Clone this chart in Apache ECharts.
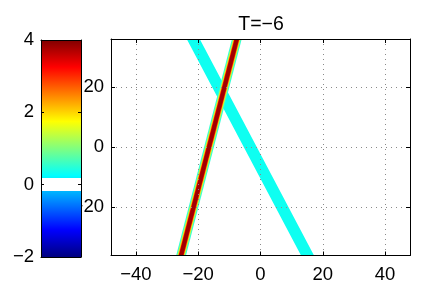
<!DOCTYPE html>
<html>
<head>
<meta charset="utf-8">
<script src="https://cdn.jsdelivr.net/npm/echarts@6/dist/echarts.min.js"></script>
<style>html,body{margin:0;padding:0;background:#fff;}#c{width:442px;height:288px;}</style>
</head>
<body>
<div id="c"></div>
<script>
// ---- data ----
const titleText = 'T=\u22126';
const xRange = [-48, 48];
const yRange = [-36, 36];
const xTicks = [-40, -20, 0, 20, 40];
const yTicks = [-20, 0, 20];
const cbRange = [-2, 4];
const cbTicks = [-2, 0, 2, 4];
// wide cyan band: centre line end points (x, y)
const wideBandX = [-21.6, 15.1];
const wideBandY = [36, -36];
const wideBandValue = 0.33;
// narrow peaked band: centre line end points (x, y)
const thinBandX = [-25.5, -7.6];
const thinBandY = [-36, 36];
// white gap in the colour map around zero
const whiteGap = [-0.17, 0.19];

const FONT = 'Liberation Sans';
const chart = echarts.init(document.getElementById('c'), null, {renderer: 'canvas'});

// jet colour map anchors (value -> colour)
const jet = [[4, [128,0,0]], [3.25, [255,0,0]], [1.75, [255,255,0]], [0.25, [0,255,255]], [-1.25, [0,0,255]], [-2, [0,0,128]]];
function jetColor(v) {
  for (let i = 0; i < jet.length - 1; i++) {
    const a = jet[i], b = jet[i+1];
    if (v <= a[0] && v >= b[0]) {
      const f = (v - b[0]) / (a[0] - b[0]);
      const c = b[1].map((cv, k) => Math.round(cv + (a[1][k] - cv) * f));
      return 'rgb(' + c.join(',') + ')';
    }
  }
  return '#000';
}
function off(v) { return (cbRange[1] - v) / (cbRange[1] - cbRange[0]); }
const stops = [];
jet.forEach(([v]) => {
  if (v > whiteGap[1]) stops.push({offset: off(v), color: jetColor(v)});
});
stops.push({offset: off(whiteGap[1]), color: jetColor(whiteGap[1])});
stops.push({offset: off(whiteGap[1]), color: '#ffffff'});
stops.push({offset: off(whiteGap[0]), color: '#ffffff'});
stops.push({offset: off(whiteGap[0]), color: jetColor(whiteGap[0])});
jet.forEach(([v]) => {
  if (v < whiteGap[0]) stops.push({offset: off(v), color: jetColor(v)});
});

const labelStyle = {color: '#000', fontFamily: FONT, fontSize: 18.5};
const dotted = {show: true, lineStyle: {color: '#8a8a8a', width: 1, type: [1, 4]}};
const blackLine = {show: true, onZero: false, lineStyle: {color: '#000', width: 1}};
const minusFmt = v => String(v).replace('-', '\u2212');

const wideLayers = [{w: 11.5, c: jetColor(wideBandValue)}];
const thinLayers = [
  {w: 9.5, c: '#30ffd8'},
  {w: 7.5, c: '#c0ff40'},
  {w: 6, c: '#ffb000'},
  {w: 4.8, c: '#e00000'},
  {w: 3.6, c: '#a00000'}
];

function bandSeries(xs, ys, layers, z) {
  return {
    type: 'custom', xAxisIndex: 0, yAxisIndex: 0, clip: true, silent: true, z: z,
    data: [[xs[0], ys[0], xs[1], ys[1]]],
    renderItem: function (params, api) {
      const p0 = api.coord([api.value(0), api.value(1)]);
      const p1 = api.coord([api.value(2), api.value(3)]);
      return {
        type: 'group',
        children: layers.map((l, i) => ({
          type: 'line', z2: i,
          shape: {x1: p0[0], y1: p0[1], x2: p1[0], y2: p1[1]},
          style: {stroke: l.c, lineWidth: l.w, lineCap: 'square', fill: null}
        }))
      };
    }
  };
}

const series = [
  bandSeries(wideBandX, wideBandY, wideLayers, 2),
  bandSeries(thinBandX, thinBandY, thinLayers, 3),
  {
    type: 'custom', xAxisIndex: 2, yAxisIndex: 2, z: 20, silent: true,
    data: [[0, cbRange[0], 1, cbRange[1]]],
    renderItem: function (params, api) {
      const p0 = api.coord([0, cbRange[1]]);
      const p1 = api.coord([1, cbRange[0]]);
      return {
        type: 'rect',
        shape: {x: p0[0], y: p0[1], width: p1[0] - p0[0], height: p1[1] - p0[1]},
        style: {fill: {type: 'linear', x: 0, y: 0, x2: 0, y2: 1, colorStops: stops}}
      };
    }
  }
];

chart.setOption({
  animation: false,
  backgroundColor: '#fff',
  title: {
    text: titleText, left: 256, top: 10, textAlign: 'center',
    textStyle: {color: '#000', fontFamily: FONT, fontSize: 19.5, fontWeight: 'normal'}
  },
  grid: [
    {left: 111, top: 39, width: 299, height: 216.5, containLabel: false},
    {left: 41, top: 40, width: 40, height: 217, containLabel: false}
  ],
  xAxis: [
    {gridIndex: 0, type: 'value', min: xRange[0], max: xRange[1], position: 'bottom', z: 10,
     axisLine: blackLine,
     axisTick: {show: true, inside: true, length: 4, customValues: xTicks, lineStyle: {color: '#000'}},
     axisLabel: Object.assign({show: true, margin: 10, customValues: xTicks, formatter: minusFmt}, labelStyle),
     splitLine: dotted},
    {gridIndex: 0, type: 'value', min: xRange[0], max: xRange[1], position: 'top', z: 10,
     axisLine: blackLine,
     axisTick: {show: true, inside: true, length: 4, customValues: xTicks, lineStyle: {color: '#000'}},
     axisLabel: {show: false, customValues: xTicks}, splitLine: {show: false}},
    {gridIndex: 1, type: 'value', min: 0, max: 1, position: 'bottom', z: 30,
     axisLine: blackLine, axisTick: {show: false}, axisLabel: {show: false}, splitLine: {show: false}},
    {gridIndex: 1, type: 'value', min: 0, max: 1, position: 'top', z: 30,
     axisLine: blackLine, axisTick: {show: false}, axisLabel: {show: false}, splitLine: {show: false}}
  ],
  yAxis: [
    {gridIndex: 0, type: 'value', min: yRange[0], max: yRange[1], position: 'left', z: 10,
     axisLine: blackLine,
     axisTick: {show: true, inside: true, length: 4, customValues: yTicks, lineStyle: {color: '#000'}},
     axisLabel: Object.assign({show: true, margin: 7, customValues: yTicks, formatter: minusFmt}, labelStyle),
     splitLine: dotted},
    {gridIndex: 0, type: 'value', min: yRange[0], max: yRange[1], position: 'right', z: 10,
     axisLine: blackLine,
     axisTick: {show: true, inside: true, length: 4, customValues: yTicks, lineStyle: {color: '#000'}},
     axisLabel: {show: false, customValues: yTicks}, splitLine: {show: false}},
    {gridIndex: 1, type: 'value', min: cbRange[0], max: cbRange[1], interval: 2, position: 'left', z: 30,
     axisLine: blackLine,
     axisTick: {show: true, inside: true, length: 3, customValues: cbTicks, lineStyle: {color: '#000'}},
     axisLabel: Object.assign({show: true, margin: 7, customValues: cbTicks, formatter: minusFmt}, labelStyle),
     splitLine: {show: false}},
    {gridIndex: 1, type: 'value', min: cbRange[0], max: cbRange[1], interval: 2, position: 'right', z: 30,
     axisLine: blackLine,
     axisTick: {show: true, inside: true, length: 3, customValues: cbTicks, lineStyle: {color: '#000'}},
     axisLabel: {show: false}, splitLine: {show: false}}
  ],
  series: series
});
</script>
</body>
</html>
